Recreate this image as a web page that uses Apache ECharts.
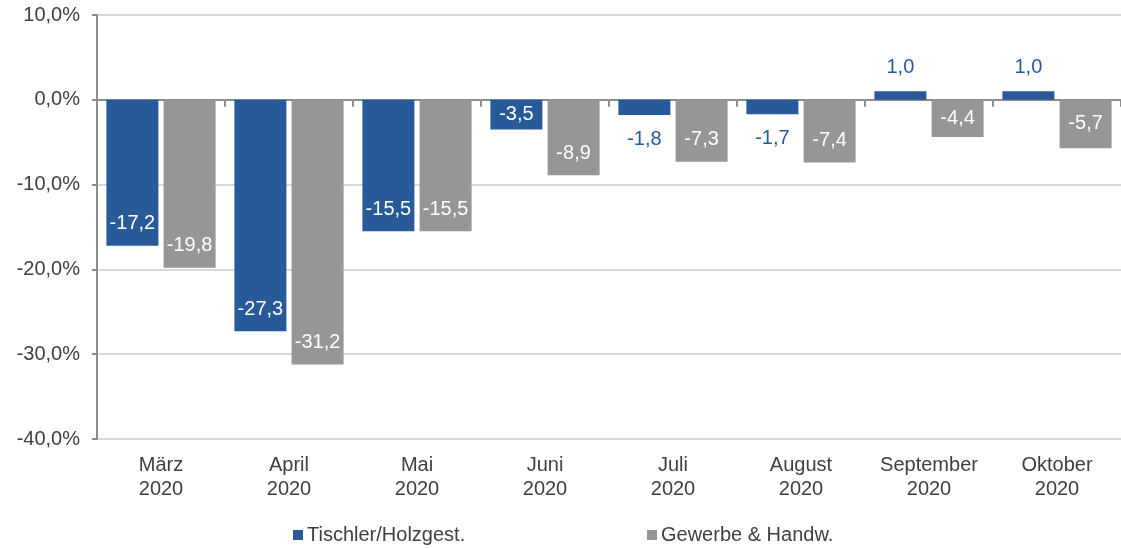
<!DOCTYPE html>
<html>
<head>
<meta charset="utf-8">
<script src="https://cdn.jsdelivr.net/npm/echarts@6/dist/echarts.min.js"></script>
<style>
  html, body { margin: 0; padding: 0; background: #fff; }
  #chart { width: 1121px; height: 548px; }
</style>
</head>
<body>
<div id="chart"></div>
<script>
const categories = ['März\n2020', 'April\n2020', 'Mai\n2020', 'Juni\n2020', 'Juli\n2020', 'August\n2020', 'September\n2020', 'Oktober\n2020'];
const tischler = [-17.2, -27.3, -15.5, -3.5, -1.8, -1.7, 1.0, 1.0];
const gewerbe = [-19.8, -31.2, -15.5, -8.9, -7.3, -7.4, -4.4, -5.7];
const seriesNames = ['Tischler/Holzgest.', 'Gewerbe & Handw.'];

const blue = '#285a99';
const gray = '#969696';
const textColor = '#404040';
const font = 'Liberation Sans, Arial, sans-serif';

const fmt = v => v.toFixed(1).replace('.', ',');

// label placement like the original: inside end for tall bars, outside for tiny ones
function items (values, color) {
  return values.map(v => {
    let label;
    if (v >= 0) {
      label = { position: 'top', distance: 14, color: color };
    } else if (v > -3) {
      label = { position: 'bottom', distance: 14, color: color };
    } else if (v > -6) {
      label = { position: 'inside', color: '#fff' };
    } else {
      label = { position: 'insideBottom', distance: 12, color: '#fff' };
    }
    return { value: v, label: label };
  });
}

const legendCommon = {
  top: 525, padding: 0, itemWidth: 10, itemHeight: 10, itemGap: 4, icon: 'rect',
  textStyle: { fontSize: 20, color: textColor, fontFamily: font, padding: [0, 0, 0, -1] }
};

const chart = echarts.init(document.getElementById('chart'));
chart.setOption({
  animation: false,
  textStyle: { fontFamily: font },
  color: [blue, gray],
  grid: { left: 97, right: 0, top: 15, bottom: 109, containLabel: false },
  legend: [
    Object.assign({ data: [seriesNames[0]], left: 293 }, legendCommon),
    Object.assign({ data: [seriesNames[1]], left: 647 }, legendCommon)
  ],
  xAxis: [
    {
      type: 'category',
      data: categories,
      position: 'bottom',
      axisLine: { show: false, onZero: false },
      axisTick: { show: false },
      axisLabel: { fontSize: 20, color: textColor, lineHeight: 24, margin: 14 }
    },
    {
      // zero line with its ticks, no labels
      type: 'category',
      data: categories,
      position: 'bottom',
      axisLine: { onZero: true, onZeroAxisIndex: 0, lineStyle: { color: '#8c8c8c', width: 2 } },
      axisTick: { show: true, inside: false, length: 7, lineStyle: { color: '#8c8c8c', width: 2 } },
      axisLabel: { show: false }
    }
  ],
  yAxis: {
    type: 'value',
    min: -40,
    max: 10,
    interval: 10,
    axisLine: { show: true, lineStyle: { color: '#8c8c8c', width: 2 } },
    axisTick: { show: true, length: 5, lineStyle: { color: '#8c8c8c', width: 2 } },
    splitLine: { show: true, lineStyle: { color: '#d9d9d9', width: 2 } },
    axisLabel: { fontSize: 20, color: textColor, margin: 17, formatter: v => fmt(v) + '%' }
  },
  series: [
    {
      name: seriesNames[0],
      type: 'bar',
      xAxisIndex: 0,
      barWidth: 52,
      barGap: '10%',
      data: items(tischler, blue),
      label: { show: true, fontSize: 20, fontFamily: font, formatter: p => fmt(p.value) }
    },
    {
      name: seriesNames[1],
      type: 'bar',
      xAxisIndex: 0,
      barWidth: 52,
      barGap: '10%',
      data: items(gewerbe, gray),
      label: { show: true, fontSize: 20, fontFamily: font, formatter: p => fmt(p.value) }
    }
  ]
});
</script>
</body>
</html>
